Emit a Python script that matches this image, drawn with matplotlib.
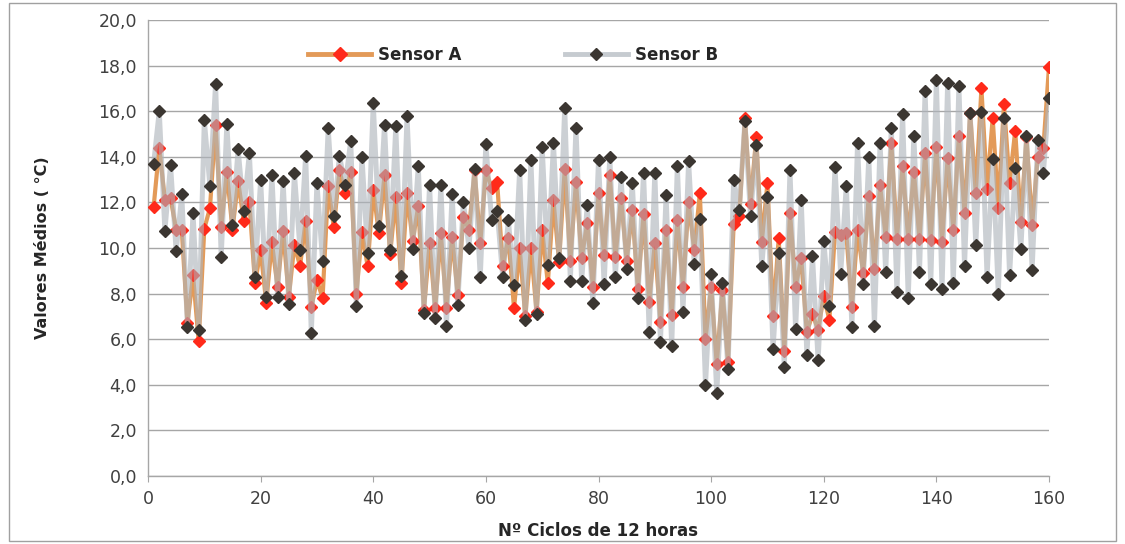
import matplotlib
matplotlib.use("Agg")
import matplotlib.pyplot as plt
from matplotlib.patches import Rectangle
from matplotlib.ticker import FuncFormatter, MultipleLocator

cycles = list(range(1, 161))

sensor_a = [11.8, 14.4, 12.1, 12.2, 10.8, 10.8, 6.7, 8.8, 5.9, 10.85,
            11.75, 15.4, 10.9, 13.35, 10.8, 12.95, 11.2, 12.0, 8.45, 9.9,
            7.6, 10.25, 8.3, 10.75, 7.85, 10.15, 9.2, 11.2, 7.4, 8.6,
            7.8, 12.7, 10.9, 13.4, 12.4, 13.35, 8.0, 10.7, 9.2, 12.55,
            10.65, 13.2, 9.75, 12.25, 8.45, 12.4, 10.3, 11.85, 7.3, 10.2,
            7.35, 10.65, 7.35, 10.5, 7.95, 11.35, 10.8, 13.4, 10.2, 13.4,
            12.65, 12.9, 9.2, 10.45, 7.35, 10.0, 7.0, 10.0, 7.2, 10.8,
            8.45, 12.1, 9.4, 13.45, 9.45, 12.9, 9.55, 11.1, 8.3, 12.4,
            9.7, 13.2, 9.6, 12.2, 9.45, 11.65, 8.2, 11.5, 7.65, 10.2,
            6.75, 10.8, 7.05, 11.25, 8.3, 12.0, 9.9, 12.4, 6.0, 8.3,
            4.9, 8.15, 5.0, 11.05, 11.4, 15.7, 11.93, 14.85, 10.28, 12.85,
            7.0, 10.42, 5.5, 11.55, 8.3, 9.55, 6.3, 7.1, 6.4, 7.9,
            6.84, 10.7, 10.55, 10.65, 7.4, 10.8, 8.9, 12.3, 9.06, 12.75,
            10.5, 14.6, 10.4, 13.6, 10.4, 13.35, 10.4, 14.15, 10.33, 14.45,
            10.25, 13.95, 10.8, 14.9, 11.55, 15.9, 12.4, 17.0, 12.6, 15.7,
            11.74, 16.3, 12.87, 15.15, 11.15, 14.85, 11.0, 14.0, 14.4, 17.95]

sensor_b = [13.7, 16.0, 10.75, 13.65, 9.85, 12.35, 6.55, 11.55, 6.4, 15.6,
            12.7, 17.2, 9.62, 15.43, 11.03, 14.33, 11.63, 14.17, 8.73, 13.0,
            7.83, 13.2, 7.87, 12.92, 7.53, 13.27, 9.93, 14.05, 6.28, 12.85,
            9.44, 15.25, 11.4, 14.05, 12.75, 14.7, 7.46, 13.98, 9.76, 16.35,
            10.96, 15.4, 9.93, 15.33, 8.77, 15.77, 9.97, 13.6, 7.15, 12.75,
            6.92, 12.75, 6.6, 12.35, 7.52, 12.02, 10.02, 13.47, 8.72, 14.58,
            11.25, 11.62, 8.72, 11.21, 8.37, 13.43, 6.85, 13.84, 7.12, 14.42,
            9.25, 14.6, 9.58, 16.15, 8.57, 15.28, 8.55, 11.88, 7.58, 13.85,
            8.42, 14.0, 8.72, 13.1, 9.1, 12.87, 7.8, 13.3, 6.33, 13.3,
            5.89, 12.32, 5.7, 13.6, 7.21, 13.8, 9.32, 11.26, 4.0, 8.86,
            3.65, 8.46, 4.68, 12.98, 11.67, 15.56, 11.4, 14.52, 9.22, 12.22,
            5.55, 9.76, 4.78, 13.4, 6.43, 12.1, 5.31, 9.64, 5.07, 10.3,
            7.46, 13.54, 8.85, 12.73, 6.54, 14.6, 8.43, 13.99, 6.6, 14.6,
            8.93, 15.27, 8.06, 15.88, 7.82, 14.9, 8.93, 16.88, 8.4, 17.35,
            8.2, 17.22, 8.45, 17.1, 9.23, 15.9, 10.12, 15.97, 8.73, 13.92,
            8.0, 15.7, 8.8, 13.5, 9.94, 14.9, 9.05, 14.72, 13.3, 16.6]

x_ticks = [0, 20, 40, 60, 80, 100, 120, 140, 160]
label_a = "Sensor A"
label_b = "Sensor B"
x_title = "Nº Ciclos de 12 horas"
y_title = "Valores Médios ( °C)"

plt.rcParams['font.family'] = ['DejaVu Sans']

fig = plt.figure(figsize=(11.25, 5.44), dpi=100)
ax = fig.add_axes([148/1125, 1 - 476/544, (1049-148)/1125, (476-20)/544])

grid_c = '#a6a6a6'
ax.set_xlim(0, 160)
ax.set_ylim(0, 20)
ax.yaxis.set_major_locator(MultipleLocator(2))
ax.set_xticks(x_ticks)
ax.yaxis.set_major_formatter(FuncFormatter(lambda v, p: f"{v:.1f}".replace('.', ',')))
ax.grid(axis='y', color=grid_c, lw=1.0, zorder=0)
ax.set_axisbelow(True)
for s in ['top', 'right']:
    ax.spines[s].set_visible(False)
for s in ['left', 'bottom']:
    ax.spines[s].set_color(grid_c)
    ax.spines[s].set_linewidth(1.0)
ax.tick_params(axis='both', labelsize=12.5, colors='#404040', length=0, pad=8)
ax.tick_params(axis='x', length=4, color=grid_c, pad=6)

# Sensor A: line and markers
ax.plot(cycles, sensor_a, color='#e39a58', lw=3.0, zorder=2)
ax.plot(cycles, sensor_a, ls='none', marker='D', ms=6.5, mfc='#ff2a1a', mec='#ff2a1a', zorder=3)
# Sensor B: semi transparent line over A, then markers
ax.plot(cycles, sensor_b, color='#aeb4bb', lw=3.6, alpha=0.62, zorder=4)
ax.plot(cycles, sensor_b, ls='none', marker='D', ms=6.3, mfc='#3b3631', mec='#3b3631', zorder=5)

# legend proxies
ha, = ax.plot([], [], color='#e39a58', lw=3.5, marker='D', ms=7.5, mfc='#ff2a1a', mec='#ff2a1a')
hb, = ax.plot([], [], color='#c6cbd0', lw=3.5, marker='D', ms=6.5, mfc='#3b3631', mec='#3b3631')
leg = ax.legend([ha, hb], [label_a, label_b], ncol=2, loc='center',
                bbox_to_anchor=(0.405, 0.923), frameon=False, handlelength=3.8,
                handletextpad=0.4, columnspacing=6.2,
                prop={'weight': 'bold', 'size': 12})
for t in leg.get_texts():
    t.set_color('#262626')

ax.set_xlabel(x_title, fontsize=12, fontweight='bold', color='#262626', labelpad=10)
fig.text(43/1125, 1 - 248/544, y_title, rotation=90, ha='center', va='center',
         fontsize=11.5, fontweight='bold', color='#262626')

fig.patches.append(Rectangle((0.008, 0.006), 0.984, 0.988, transform=fig.transFigure,
                             fill=False, edgecolor='#a0a0a0', lw=1.0))

fig.savefig('out.png', dpi=100)
